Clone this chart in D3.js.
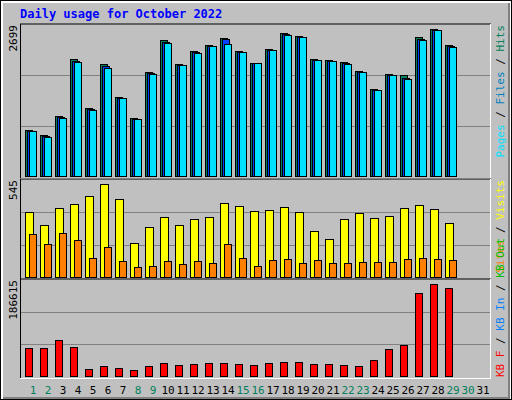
<!DOCTYPE html>
<html><head><meta charset="utf-8">
<script src="https://cdn.jsdelivr.net/npm/d3@7"></script>
<style>body{margin:0;background:#fff}svg{display:block}text{font-family:"DejaVu Sans Mono",monospace}</style>
</head><body><svg id="c" width="512" height="400"></svg>
<script>
const days = d3.range(1, 32);
const weekend = [1,2,8,9,15,16,22,23,29,30];
const hits  = [822,733,1072,2091,1215,2001,1412,1036,1858,2430,2001,2234,2341,2466,2234,2019,2270,2555,2502,2091,2073,2037,1876,1555,1823,1805,2484,2627,2341];
const files = [810,715,1055,2060,1197,1965,1403,1027,1840,2400,1990,2216,2332,2448,2225,2019,2261,2537,2493,2082,2064,2019,1867,1546,1814,1760,2457,2618,2323];
const pages = [804,697,1036,2037,1179,1930,1394,1019,1823,2377,1984,2198,2323,2359,2216,2019,2252,2520,2484,2073,2055,2001,1858,1537,1805,1733,2430,2609,2305];
const visits = [364,291,386,409,454,521,437,189,279,336,291,324,336,414,397,369,375,392,364,257,212,324,358,330,341,386,403,380,302];
const sites  = [240,184,246,206,105,167,88,55,60,88,71,88,77,184,105,60,94,99,77,94,77,77,83,83,83,99,105,99,94];
const kbytes = [53800,53800,69400,55800,13000,18900,15000,11100,18900,24700,20800,22700,24700,24700,22700,20800,24700,26600,26600,22700,22700,20800,18900,30500,51900,59700,160800,178300,170500];
const maxTop = 2699, maxMid = 545, maxBot = 186615;

const svg = d3.select("#c");
// frame
svg.append("rect").attr("x",0).attr("y",0).attr("width",512).attr("height",400).attr("fill","#000");
svg.append("rect").attr("x",1).attr("y",1).attr("width",510).attr("height",398).attr("fill","#fff");
svg.append("rect").attr("x",3).attr("y",3).attr("width",507).attr("height",396).attr("fill","#808080");
svg.append("rect").attr("x",3).attr("y",3).attr("width",505).attr("height",394).attr("fill","#c0c0c0");

svg.append("text").attr("x",20).attr("y",18).attr("fill","#0000ff").attr("font-size",12).attr("font-weight","bold").text("Daily usage for October 2022");

const x = d3.scaleLinear().domain([1,32]).range([25,490]);
const step = 15;
const panels = [
  {y0:25,y1:176,max:maxTop,label:"2699"},
  {y0:180,y1:277,max:maxMid,label:"545"},
  {y0:280,y1:376,max:maxBot,label:"186615"}
];
panels.forEach(p=>{
  const g = svg.append("g");
  g.append("rect").attr("x",20).attr("y",p.y0-1).attr("width",471).attr("height",p.y1-p.y0+3).attr("fill","#c0c0c0");
  g.append("line").attr("x1",20).attr("x2",491).attr("y1",p.y0-1).attr("y2",p.y0-1).attr("stroke","#000");
  g.append("line").attr("x1",20.5).attr("x2",20.5).attr("y1",p.y0-1).attr("y2",p.y1+2).attr("stroke","#000");
  g.append("line").attr("x1",20).attr("x2",491).attr("y1",p.y1+2.5).attr("y2",p.y1+2.5).attr("stroke","#fff");
  g.append("line").attr("x1",490.5).attr("x2",490.5).attr("y1",p.y0-1).attr("y2",p.y1+2).attr("stroke","#fff");
  p.scale = d3.scaleLinear().domain([0,p.max]).range([p.y1,p.y0]);
  [1/3,2/3].forEach(f=>{
    const yy = Math.round(p.scale(p.max*f))+0.5;
    g.append("line").attr("x1",21).attr("x2",490).attr("y1",yy).attr("y2",yy).attr("stroke","#808080");
  });
  svg.append("text").attr("transform",`translate(17,${p.y0}) rotate(-90)`).attr("text-anchor","end")
    .attr("font-size",11).attr("fill","#000").text(p.label);
});

function bars(data, panel, off, w, color){
  svg.append("g").selectAll("rect").data(data).enter().append("rect")
    .attr("x",(d,i)=>x(i+1)+off+0.5).attr("width",w)
    .attr("y",d=>Math.round(panel.scale(d))+0.5).attr("height",d=>panel.y1-Math.round(panel.scale(d)))
    .attr("fill",color).attr("stroke","#000");
}
bars(hits, panels[0], 0, 7, "#00805c");
bars(files, panels[0], 2, 7, "#0040ff");
bars(pages, panels[0], 4, 7, "#00e0ff");
bars(visits, panels[1], 0, 8, "#ffff00");
bars(sites, panels[1], 4, 7, "#ff8000");
bars(kbytes, panels[2], 0, 7, "#ff0000");

svg.append("g").selectAll("text").data(days).enter().append("text")
  .attr("x",d=>x(d)+8).attr("y",394).attr("text-anchor","middle").attr("font-size",11)
  .attr("fill",d=>weekend.includes(d)?"#00805c":"#000").text(d=>d);

function rlabel(parts, y, anchor){
  const t = svg.append("text").attr("transform",`translate(504,${y}) rotate(-90)`).attr("text-anchor",anchor).attr("font-size",11);
  parts.forEach(([s,c])=>t.append("tspan").attr("fill",c).text(s));
}
rlabel([["Pages","#00e0ff"],[" / ","#000"],["Files","#0080c0"],[" / ","#000"],["Hits","#00805c"]], 25, "end");
rlabel([["Sites","#ff8000"],[" / ","#000"],["Visits","#ffff00"]], 180, "end");
rlabel([["KB F","#ff0000"],[" / ","#000"],["KB In","#0080ff"],[" / ","#000"],["KB Out","#00c000"]], 377, "start");
</script></body></html>
